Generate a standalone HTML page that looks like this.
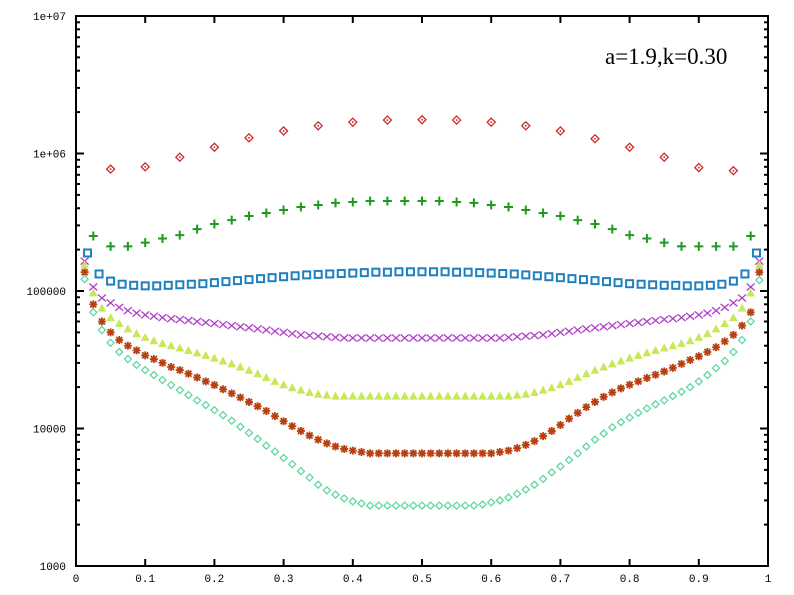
<!DOCTYPE html>
<html><head><meta charset="utf-8"><style>
html,body{margin:0;padding:0;background:#fff;width:794px;height:595px;overflow:hidden}
svg text{font-family:"Liberation Mono",monospace}
</style></head><body>
<svg id="chart" width="794" height="595" xmlns="http://www.w3.org/2000/svg">
<rect x="0" y="0" width="794" height="595" fill="#fff"/>
<g id="axes"></g>
<g id="series"></g>
<text x="605" y="64" font-size="23" style="font-family:'Liberation Serif',serif">a=1.9,k=0.30</text>
</svg>
<script>
const xTickLabels=["0","0.1","0.2","0.3","0.4","0.5","0.6","0.7","0.8","0.9","1"];
const yTickValues=[1000,10000,100000,1000000,10000000];
const yTickLabels=["1000","10000","100000","1e+06","1e+07"];
const redVals=[770000,800000,940000,1110000,1300000,1460000,1590000,1690000,1750000,1760000,1750000,1690000,1590000,1460000,1280000,1110000,940000,790000,750000];
const greenVals=[251,211,211,225,241,255,282,307,328,351,369,388,408,422,437,444,451,451,451,451,451,444,437,422,408,388,369,351,328,307,282,255,241,225,211,211,211,211,251];
const blueVals=[189,133,118,112,110,109,109,110,111,112,113,115,117,119,121,123,125,127,129,131,132,133,134,135,136,137,137,138,138,138,138,138,137,137,136,135,134,133,131,129,127,125,123,121,119,117,115,113,112,111,110,110,109,109,110,112,118,133,189];
const purpleVals=[165,107,89,82,76,72,69,67,65.5,64,63,62,61,60,59,58,57,56,55,54,53,52,51,50,49,48,47.5,47,46.5,46,45.5,45.5,45.5,45.5,45.5,45.5,45.5,45.5,45.5,45.5,45.5,45.5,45.5,45.5,45.5,45.5,45.5,45.5,45.5,46,46.5,47,47.5,48,49,50,51,52,53,54,55,56,57,58,59,60,61,62,63,64,65.5,67,69,72,76,82,89,107,165];
const yellowVals=[155,97,75,64,58,53,49,46,43.5,41.5,40,38.5,37,35.5,34,32.5,31,29.5,28,26.5,25,23.5,22,20.8,19.8,19,18.3,17.8,17.5,17.2,17.2,17.2,17.2,17.2,17.2,17.2,17.2,17.2,17.2,17.2,17.2,17.2,17.2,17.2,17.2,17.2,17.2,17.2,17.2,17.2,17.5,17.8,18.3,19,19.8,20.8,22,23.5,25,26.5,28,29.5,31,32.5,34,35.5,37,38.5,40,41.5,43.5,46,49,53,58,64,75,97,155];
const brownVals=[137,80,60,50,44,40,37,34,32,30,28,26.6,25,23.5,22,20.7,19.3,18,16.8,15.6,14.5,13.4,12.3,11.3,10.4,9.6,8.9,8.3,7.8,7.4,7.1,6.9,6.75,6.6,6.6,6.6,6.6,6.6,6.6,6.6,6.6,6.6,6.6,6.6,6.6,6.6,6.6,6.6,6.75,6.9,7.2,7.6,8.1,8.8,9.6,10.6,11.8,13,14.3,15.6,17,18.3,19.6,20.8,22,23.3,24.6,26,27.6,29.5,31.5,33.5,36,39,43,48,56,70,137];
const tealVals=[122,70,52,42,36,32,29,26.6,24.5,22.5,20.7,19,17.5,16,14.8,13.6,12.5,11.4,10.3,9.3,8.4,7.5,6.8,6.1,5.5,4.9,4.4,3.9,3.55,3.3,3.1,2.95,2.85,2.75,2.75,2.75,2.75,2.75,2.75,2.75,2.75,2.75,2.75,2.75,2.75,2.75,2.8,2.9,3.0,3.15,3.35,3.6,3.9,4.3,4.8,5.3,5.9,6.6,7.4,8.3,9.2,10.2,11.1,12,13,14,15,16,17.2,18.5,20,22,24.5,27.5,31,36,44,60,120];

const NS="http://www.w3.org/2000/svg";
const L=76,R=768,T=16,B=566;
const X=v=>L+v*(R-L);
const Y=v=>B-(Math.log10(v)-3)/4*(B-T);
const ax=document.getElementById('axes'), sg=document.getElementById('series');
function mk(tag,attrs,parent){const e=document.createElementNS(NS,tag);for(const k in attrs)e.setAttribute(k,attrs[k]);parent.appendChild(e);return e;}
const frame=mk('rect',{x:L,y:T,width:R-L,height:B-T,fill:'none',stroke:'#000','stroke-width':2},ax);


xTickLabels.forEach((lab,i)=>{const v=i/10,x=X(v);
 mk('line',{x1:x,y1:B,x2:x,y2:B-7,stroke:'#000','stroke-width':2},ax);
 mk('line',{x1:x,y1:T,x2:x,y2:T+7,stroke:'#000','stroke-width':2},ax);
 const t=mk('text',{x:x,y:582,'font-size':11,'text-anchor':'middle'},ax);t.textContent=lab;
 
 
});
yTickValues.forEach((v,i)=>{const y=Y(v);
 mk('line',{x1:L,y1:y,x2:L+8,y2:y,stroke:'#000','stroke-width':2},ax);
 mk('line',{x1:R,y1:y,x2:R-8,y2:y,stroke:'#000','stroke-width':2},ax);
 const t=mk('text',{x:L-10,y:y+4,'font-size':11,'text-anchor':'end'},ax);t.textContent=yTickLabels[i];
 
 
 if(i<yTickValues.length-1){for(let m=2;m<10;m++){const yy=Y(v*m);
  mk('line',{x1:L,y1:yy,x2:L+4,y2:yy,stroke:'#000','stroke-width':2},ax);
  mk('line',{x1:R,y1:yy,x2:R-4,y2:yy,stroke:'#000','stroke-width':2},ax);}}
});
function marker(shape,x,y,c,g){
 if(shape==='diamond'){mk('path',{d:`M${x} ${y-4}L${x+4} ${y}L${x} ${y+4}L${x-4} ${y}Z`,fill:'none',stroke:c,'stroke-width':1.3},g);mk('rect',{x:x-0.8,y:y-0.8,width:1.6,height:1.6,fill:c},g);}
 else if(shape==='plus'){mk('path',{d:`M${x-4.5} ${y}H${x+4.5}M${x} ${y-4.5}V${y+4.5}`,stroke:c,'stroke-width':2},g);}
 else if(shape==='square'){mk('rect',{x:x-3.5,y:y-3.5,width:7,height:7,fill:'none',stroke:c,'stroke-width':2},g);}
 else if(shape==='cross'){mk('path',{d:`M${x-4} ${y-3.5}L${x+4} ${y+3.5}M${x-4} ${y+3.5}L${x+4} ${y-3.5}`,stroke:c,'stroke-width':1.3},g);}
 else if(shape==='tri'){mk('path',{d:`M${x} ${y-3.5}L${x+3.5} ${y+3}L${x-3.5} ${y+3}Z`,fill:c,stroke:c,'stroke-width':1},g);}
 else if(shape==='star'){mk('path',{d:`M${x-4} ${y}H${x+4}M${x} ${y-4}V${y+4}M${x-3} ${y-3}L${x+3} ${y+3}M${x-3} ${y+3}L${x+3} ${y-3}`,stroke:c,'stroke-width':1.8},g);}
 else if(shape==='odiamond'){mk('path',{d:`M${x} ${y-3.5}L${x+3.5} ${y}L${x} ${y+3.5}L${x-3.5} ${y}Z`,fill:'none',stroke:c,'stroke-width':1.3},g);}
}
function series(name,vals,step,scale,shape,color){
 const g=mk('g',{},sg);
 
 
 vals.forEach((v,i)=>marker(shape,X((i+1)*step),Y(v*scale),color,g));
}
series('series-red-diamonds',redVals,0.05,1,'diamond','#cc2a2a');
series('series-green-plus',greenVals,0.025,1000,'plus','#1f9a1f');
series('series-blue-squares',blueVals,1/60,1000,'square','#1f80c0');
series('series-purple-crosses',purpleVals,1/80,1000,'cross','#b040c8');
series('series-yellow-triangles',yellowVals,1/80,1000,'tri','#c8e85a');
series('series-brown-stars',brownVals,1/80,1000,'star','#b84010');
series('series-teal-diamonds',tealVals,1/80,1000,'odiamond','#60d8a0');
</script>
</body></html>
